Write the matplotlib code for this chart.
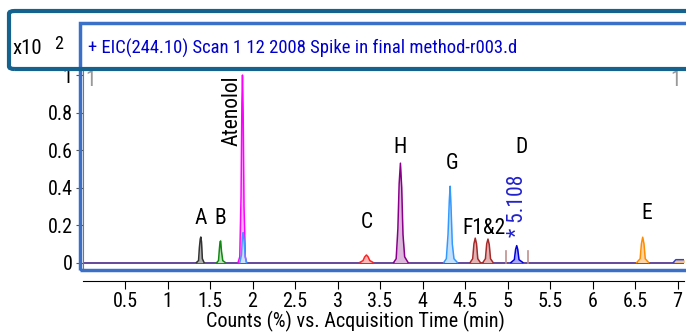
import matplotlib
matplotlib.use("Agg")
import matplotlib.pyplot as plt
from matplotlib.patches import Rectangle, FancyBboxPatch

plt.rcParams['font.family'] = ['Roboto Condensed', 'Liberation Sans', 'DejaVu Sans']

title = "+ EIC(244.10) Scan 1 12 2008 Spike in final method-r003.d"
xlabel = "Counts (%) vs. Acquisition Time (min)"
xticks = [0.5, 1, 1.5, 2, 2.5, 3, 3.5, 4, 4.5, 5, 5.5, 6, 6.5, 7]
yticks = [0, 0.2, 0.4, 0.6, 0.8, 1]
ytick_labels = ["0", "0.2", "0.4", "0.6", "0.8", "1"]

# peak traces (time in min, counts x10^2)
atenolol_t = [1.83, 1.85, 1.865, 1.875, 1.882, 1.89, 1.90, 1.915, 1.93]
atenolol_y = [0.0, 0.03, 0.35, 0.85, 1.0, 0.80, 0.30, 0.03, 0.0]
a_t = [1.34, 1.365, 1.375, 1.385, 1.392, 1.40, 1.41, 1.43]
a_y = [0.0, 0.01, 0.08, 0.125, 0.136, 0.11, 0.02, 0.0]
b_t = [1.58, 1.60, 1.61, 1.618, 1.625, 1.635, 1.65, 1.68]
b_y = [0.0, 0.01, 0.07, 0.11, 0.115, 0.06, 0.01, 0.0]
blue_t = [1.85, 1.87, 1.88, 1.89, 1.90, 1.915, 1.93]
blue_y = [0.0, 0.04, 0.13, 0.16, 0.12, 0.03, 0.0]
c_t = [3.26, 3.30, 3.32, 3.34, 3.36, 3.38, 3.42]
c_y = [0.0, 0.01, 0.03, 0.04, 0.03, 0.01, 0.0]
h_t = [3.66, 3.69, 3.71, 3.725, 3.74, 3.755, 3.77, 3.79, 3.83]
h_y = [0.0, 0.02, 0.18, 0.42, 0.53, 0.40, 0.15, 0.03, 0.0]
g_t = [4.25, 4.28, 4.30, 4.315, 4.325, 4.335, 4.35, 4.37, 4.41]
g_y = [0.0, 0.02, 0.15, 0.33, 0.407, 0.30, 0.10, 0.02, 0.0]
f1_t = [4.56, 4.59, 4.605, 4.62, 4.635, 4.65, 4.68]
f1_y = [0.0, 0.02, 0.10, 0.13, 0.10, 0.02, 0.0]
f2_t = [4.71, 4.74, 4.755, 4.77, 4.785, 4.80, 4.83]
f2_y = [0.0, 0.02, 0.10, 0.125, 0.095, 0.02, 0.0]
d_t = [5.04, 5.08, 5.095, 5.108, 5.12, 5.135, 5.18]
d_y = [0.0, 0.015, 0.07, 0.09, 0.07, 0.015, 0.0]
e_t = [6.52, 6.56, 6.575, 6.59, 6.605, 6.62, 6.66]
e_y = [0.0, 0.02, 0.10, 0.135, 0.10, 0.02, 0.0]
tail_t = [6.95, 6.98, 7.08]
tail_y = [0.0, 0.015, 0.015]

d_marks = [4.98, 5.24]
d_mark_height = 0.06

peaks = [
    (a_t, a_y, "#333333", "#b0b0b0"),
    (b_t, b_y, "#118811", "#bfe3bf"),
    (atenolol_t, atenolol_y, "#ff00ff", "#ffb8ff"),
    (blue_t, blue_y, "#4499ff", "#c8e2ff"),
    (c_t, c_y, "#ff2222", "#ffb8b8"),
    (h_t, h_y, "#880088", "#dcb8dc"),
    (g_t, g_y, "#3399ff", "#c4e0ff"),
    (f1_t, f1_y, "#a52a2a", "#e4b4b4"),
    (f2_t, f2_y, "#a52a2a", "#e4b4b4"),
    (d_t, d_y, "#0000dd", "#a8a8ff"),
    (e_t, e_y, "#ff8c00", "#ffd5a8"),
    (tail_t, tail_y, "#3344cc", "#f0c090"),
]

labels = [("A", 1.39, 0.237), ("B", 1.62, 0.237), ("C", 3.34, 0.216),
          ("H", 3.74, 0.616), ("G", 4.35, 0.53), ("F1&2", 4.72, 0.184),
          ("D", 5.16, 0.616), ("E", 6.64, 0.259)]

fs = 14.5
lfs = 15.5

fig = plt.figure(figsize=(6.86, 3.35), dpi=100)
W, H = 686.0, 335.0
ax = fig.add_axes([82.5 / W, (H - 270) / H, 601 / W, 200 / H])
ax.set_xlim(0, 7.07)
ax.set_ylim(-0.04, 1.027)

ax.plot([0, 7.07], [0, 0], color="#4b2a8a", lw=1.2, zorder=1)
for t, y, ec, fc in peaks:
    ax.fill_between(t, 0, y, color=fc, lw=0, zorder=2)
    ax.plot(t, y, color=ec, lw=1.1, zorder=3)
for m in d_marks:
    ax.plot([m, m], [0, d_mark_height], color="#c09090", lw=1.2, zorder=2)

for s, x, y in labels:
    ax.text(x, y, s, ha="center", va="center", fontsize=lfs, color="black")
ax.text(1.755, 0.81, "Atenolol", rotation=90, ha="center", va="center", fontsize=lfs)
ax.text(5.115, 0.30, "* 5.108", rotation=90, ha="center", va="center", fontsize=lfs,
        color="#2222cc")
ax.text(0.09, 0.97, "1", ha="center", va="center", fontsize=lfs, color="#999999")
ax.text(6.98, 0.97, "1", ha="center", va="center", fontsize=lfs, color="#999999")

for side in ["top", "right"]:
    ax.spines[side].set_visible(False)
ax.spines["left"].set_color("#777777")
ax.spines["bottom"].set_position(("outward", 8))
ax.set_xticks(xticks)
ax.set_xticklabels([("%g" % v) for v in xticks])
ax.set_yticks(yticks)
ax.set_yticklabels(ytick_labels)
ax.tick_params(axis="x", direction="out", length=6, labelsize=fs, pad=2)
ax.tick_params(axis="y", direction="out", length=5, labelsize=fs, pad=2, color="#555555")
ax.set_xlabel(xlabel, fontsize=fs, labelpad=0)
ax.xaxis.set_label_coords((355 - 82.5) / 601, -0.205)

# chart frames
fig.patches.append(Rectangle((80 / W, (H - 270) / H), 620 / W, 247 / H,
                             transform=fig.transFigure, fill=False,
                             ec="#3a70c8", lw=2.5, zorder=5))
fig.patches.append(FancyBboxPatch((9 / W, (H - 69) / H), 690 / W, 58 / H,
                                  boxstyle="round,pad=0,rounding_size=0.008",
                                  transform=fig.transFigure, fill=False,
                                  ec="#16628f", lw=3, zorder=6))
fig.text(88 / W, (H - 48) / H, title, color="#0000cc", fontsize=13.4, va="center")
fig.text(12 / W, (H - 49) / H, "x10", color="black", fontsize=15, va="center")
fig.text(54 / W, (H - 44) / H, "2", color="black", fontsize=13, va="center")

fig.savefig("out.png", dpi=100)
